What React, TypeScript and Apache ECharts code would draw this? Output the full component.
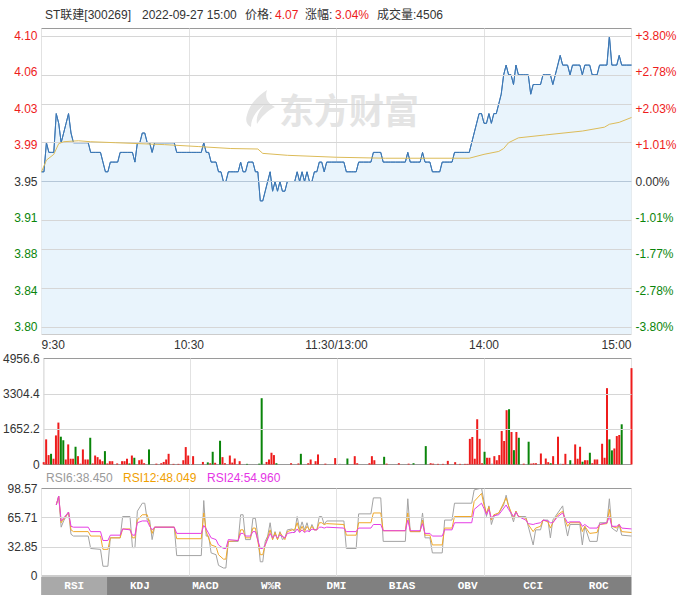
import React, { useEffect, useRef } from "react";
import * as echarts from "echarts";

const FONT = "Arial, 'Liberation Sans', 'Noto Sans CJK SC', sans-serif";
const RED = "#ee1c1c";
const GREEN = "#0a850a";

const timeTicks = [0, 60, 120, 180, 240];
const timeLabels = ["9:30", "10:30", "11:30/13:00", "14:00", "15:00"];

const prevClose = 3.95;
const priceTicks = [3.8, 3.8375, 3.875, 3.9125, 3.95, 3.9875, 4.025, 4.0625, 4.1];
const priceLabels = ["3.80", "3.84", "3.88", "3.91", "3.95", "3.99", "4.03", "4.06", "4.10"];
const pctLabels = ["-3.80%", "-2.78%", "-1.77%", "-1.01%", "0.00%", "+1.01%", "+2.03%", "+2.78%", "+3.80%"];

const price = [
  3.96, 3.96, 3.99, 3.98, 3.98, 3.98, 4.02, 4.01, 3.99, 4.0,
  4.01, 4.02, 4.0, 3.99, 3.99, 3.99, 3.99, 3.99, 3.99, 3.99,
  3.98, 3.98, 3.98, 3.98, 3.98, 3.97, 3.96, 3.96, 3.97, 3.97,
  3.97, 3.97, 3.98, 3.98, 3.98, 3.98, 3.98, 3.98, 3.97, 3.99,
  3.99, 4.0, 4.0, 3.99, 3.99, 3.98, 3.99, 3.99, 3.99, 3.99,
  3.99, 3.99, 3.99, 3.99, 3.99, 3.98, 3.98, 3.98, 3.98, 3.98,
  3.98, 3.98, 3.98, 3.98, 3.98, 3.98, 3.99, 3.98, 3.98, 3.97,
  3.97, 3.97, 3.96, 3.96, 3.95, 3.95, 3.96, 3.96, 3.96, 3.96,
  3.96, 3.97, 3.96, 3.96, 3.97, 3.97, 3.97, 3.96, 3.96, 3.93,
  3.93, 3.94, 3.95, 3.96, 3.94, 3.95, 3.94, 3.95, 3.94, 3.94,
  3.95, 3.95, 3.95, 3.95, 3.96, 3.95, 3.96, 3.95, 3.96, 3.95,
  3.95, 3.96, 3.96, 3.97, 3.97, 3.96, 3.97, 3.97, 3.97, 3.97,
  3.97, 3.97, 3.97, 3.97, 3.96, 3.96, 3.96, 3.96, 3.96, 3.97,
  3.97, 3.97, 3.97, 3.97, 3.97, 3.98, 3.98, 3.98, 3.98, 3.97,
  3.97, 3.97, 3.97, 3.97, 3.97, 3.97, 3.97, 3.97, 3.97, 3.98,
  3.97, 3.97, 3.97, 3.97, 3.97, 3.98, 3.97, 3.97, 3.97, 3.96,
  3.96, 3.96, 3.96, 3.97, 3.97, 3.97, 3.97, 3.97, 3.98, 3.98,
  3.98, 3.98, 3.98, 3.98, 3.98, 3.99, 4.0, 4.01, 4.02, 4.02,
  4.01, 4.01, 4.02, 4.01, 4.02, 4.02, 4.03, 4.04, 4.06, 4.07,
  4.06, 4.06, 4.05, 4.07, 4.06, 4.06, 4.06, 4.06, 4.06, 4.04,
  4.05, 4.05, 4.05, 4.05, 4.06, 4.06, 4.06, 4.06, 4.05, 4.06,
  4.07, 4.08, 4.07, 4.07, 4.07, 4.06, 4.07, 4.07, 4.07, 4.07,
  4.06, 4.07, 4.07, 4.07, 4.06, 4.06, 4.06, 4.07, 4.07, 4.07,
  4.07, 4.1, 4.07, 4.07, 4.07, 4.08, 4.07, 4.07, 4.07, 4.07,
  4.07,
];

const avgPoints = [
  [0, 3.96], [2, 3.972], [5, 3.978], [7, 3.989], [9, 3.991], [15, 3.992], [20, 3.991],
  [30, 3.99], [40, 3.989], [50, 3.988], [64, 3.986], [77, 3.984], [88, 3.9835],
  [90, 3.979], [100, 3.977], [120, 3.975], [140, 3.974], [174, 3.974], [180, 3.978],
  [186, 3.981], [188, 3.984], [190, 3.99], [194, 3.995], [205, 3.998], [220, 4.002],
  [229, 4.006], [231, 4.009], [235, 4.011], [240, 4.016],
];

const volumes = [
  110, 1175, 440, 500, 270, 1360, 1960, 1300, 1130, 235,
  940, 270, 270, 830, 390, 40, 705, 235, 235, 1250,
  50, 420, 345, 235, 155, 625, 50, 155, 155, 0,
  50, 0, 155, 155, 270, 50, 420, 315, 0, 200,
  235, 60, 0, 705, 0, 0, 40, 0, 60, 120,
  235, 500, 0, 30, 0, 30, 0, 200, 815, 420,
  0, 390, 0, 0, 0, 120, 0, 100, 60, 595,
  80, 0, 1110, 345, 60, 0, 420, 90, 280, 0,
  155, 0, 0, 30, 0, 0, 0, 0, 40, 3100,
  30, 120, 235, 550, 440, 60, 0, 0, 0, 0,
  0, 60, 0, 0, 50, 500, 0, 0, 60, 235,
  0, 155, 470, 0, 0, 40, 0, 0, 0, 300,
  0, 30, 0, 0, 280, 0, 0, 390, 60, 0,
  0, 0, 0, 60, 390, 200, 0, 0, 0, 360,
  40, 0, 0, 0, 0, 60, 0, 0, 0, 40,
  0, 60, 0, 0, 0, 0, 860, 0, 60, 40,
  0, 30, 0, 30, 0, 170, 0, 0, 110, 0,
  30, 0, 30, 30, 1200, 1285, 270, 2115, 1200, 60,
  595, 315, 315, 40, 390, 200, 440, 1565, 1100, 2540,
  2585, 1520, 670, 1520, 1250, 0, 40, 0, 1065, 40,
  60, 60, 0, 515, 0, 280, 110, 60, 390, 0,
  1300, 40, 30, 500, 0, 200, 40, 940, 270, 830,
  130, 200, 200, 550, 60, 235, 235, 0, 970, 315,
  3570, 1175, 660, 750, 1330, 1380, 1880, 0, 0, 0,
  4506,
];
const volSide = [
  "rrrgrrrggr", "rrrgrrrrrg", "rrrrrgrrrr", "rrrrrgrgrr", "rrrgrrrrrr",
  "rrrrrrrrrr", "rrrrrrrgrg", "rrgrrrrrrr", "rrrgrrrrgg", "nrrrrgrrrr",
  "rrrrrgrrrr", "rrrrrrrrrr", "rnrrgrrrrr", "rrrrrrrrrg", "rrrrrrrrrr",
  "rgrrrrgrrr", "rrrrrrrrrr", "rrrrrrrrrr", "grrnrrrrrr", "grgrgrrrgr",
  "rrrrrrrgrr", "rnrrrgnrrr", "grrgrrrrrr", "rggrrrgrrr", "r",
].join("");
const volTicks = [0, 1652.2, 3304.4, 4956.6];
const volLabels = ["0", "1652.2", "3304.4", "4956.6"];

const rsiTicks = [0, 32.857, 65.713, 98.57];
const rsiLabels = ["0", "32.85", "65.71", "98.57"];
const rsi6 = [
  [6, 80], [7, 90], [8, 55], [9, 62], [11, 72], [12, 47], [13, 45], [19, 45], [20, 31], [24, 30],
  [25, 11], [27, 11], [28, 43], [32, 43], [33, 67], [36, 67], [37, 32], [38, 32], [39, 73], [41, 82],
  [42, 82], [43, 63], [44, 63], [45, 41], [46, 55], [54, 55], [55, 23], [65, 23], [66, 85], [67, 45],
  [68, 45], [69, 26], [71, 24], [72, 12], [74, 9], [75, 9], [76, 39], [80, 39], [81, 69], [82, 69],
  [83, 41], [85, 41], [86, 65], [87, 65], [88, 45], [89, 16], [90, 16], [91, 39], [92, 45], [93, 60],
  [94, 41], [95, 50], [96, 41], [97, 50], [98, 41], [99, 43], [100, 52], [102, 53], [103, 50], [104, 67],
  [105, 52], [106, 61], [107, 52], [108, 60], [109, 50], [110, 58], [111, 52], [112, 52], [113, 67], [114, 67],
  [115, 58], [116, 62], [123, 62], [124, 31], [128, 31], [129, 70], [134, 70], [135, 88], [138, 88], [139, 39],
  [148, 39], [149, 87], [150, 50], [154, 50], [155, 71], [156, 43], [158, 43], [159, 26], [163, 26], [164, 63],
  [167, 63], [168, 82], [175, 82], [176, 97], [179, 99], [180, 84], [181, 67], [182, 79], [183, 58], [184, 67],
  [186, 71], [188, 80], [189, 91], [190, 79], [192, 61], [193, 73], [194, 67], [197, 67], [198, 56], [200, 35],
  [201, 52], [203, 52], [204, 63], [206, 63], [207, 43], [208, 63], [210, 71], [212, 79], [213, 59], [214, 45],
  [215, 58], [219, 58], [220, 35], [221, 56], [223, 39], [226, 39], [227, 60], [230, 60], [231, 87], [232, 54],
  [234, 50], [235, 58], [236, 46], [240, 45],
];
const rsi12 = [
  [6, 80], [7, 90], [8, 60], [11, 72], [12, 52], [13, 50], [19, 50], [20, 45], [24, 45], [25, 30],
  [27, 30], [28, 43], [32, 43], [33, 53], [36, 53], [37, 43], [38, 43], [39, 63], [41, 69], [43, 69],
  [44, 58], [45, 48], [46, 55], [54, 55], [55, 42], [65, 42], [66, 71], [67, 50], [69, 35], [71, 33],
  [72, 24], [74, 19], [75, 19], [76, 39], [80, 40], [81, 52], [82, 52], [83, 43], [85, 43], [86, 54],
  [87, 54], [89, 24], [90, 24], [91, 35], [93, 52], [94, 41], [95, 49], [96, 41], [97, 49], [99, 41],
  [100, 50], [102, 52], [103, 52], [104, 60], [105, 50], [106, 56], [107, 50], [108, 56], [109, 52], [110, 56],
  [111, 52], [112, 52], [113, 60], [114, 60], [115, 58], [116, 59], [123, 58], [124, 46], [128, 46], [129, 60],
  [134, 60], [135, 71], [138, 71], [139, 51], [148, 51], [149, 71], [150, 50], [154, 50], [155, 63], [156, 46],
  [158, 46], [159, 35], [163, 35], [164, 54], [167, 54], [168, 67], [175, 67], [176, 84], [179, 93], [180, 80],
  [181, 71], [182, 78], [183, 63], [184, 69], [186, 71], [189, 88], [190, 79], [192, 65], [193, 73], [194, 67],
  [197, 65], [198, 58], [200, 50], [201, 54], [203, 56], [204, 63], [206, 61], [207, 54], [208, 60], [210, 69],
  [212, 73], [213, 63], [214, 56], [215, 60], [219, 60], [220, 50], [221, 56], [223, 48], [226, 49], [227, 58],
  [230, 59], [231, 75], [232, 56], [234, 54], [235, 58], [236, 50], [240, 49],
];
const rsi24 = [
  [6, 80], [7, 90], [8, 62], [11, 72], [12, 56], [13, 55], [19, 55], [20, 50], [24, 50], [25, 40],
  [27, 40], [28, 46], [32, 46], [33, 53], [36, 52], [37, 46], [38, 46], [39, 60], [41, 62], [43, 62],
  [44, 56], [45, 52], [46, 55], [54, 55], [55, 48], [65, 48], [66, 57], [67, 53], [69, 43], [71, 41],
  [72, 35], [74, 31], [75, 31], [76, 41], [80, 40], [81, 48], [82, 48], [83, 45], [85, 45], [86, 50],
  [87, 50], [89, 31], [90, 31], [91, 35], [93, 48], [94, 43], [95, 46], [96, 43], [97, 46], [99, 43],
  [100, 48], [102, 49], [103, 49], [104, 53], [105, 49], [106, 52], [107, 49], [108, 51], [109, 50], [110, 53],
  [111, 52], [112, 52], [113, 55], [114, 55], [115, 54], [116, 55], [123, 54], [124, 50], [128, 50], [129, 54],
  [134, 54], [135, 58], [138, 58], [139, 51], [148, 51], [149, 63], [150, 51], [154, 51], [155, 59], [156, 48],
  [158, 48], [159, 45], [163, 45], [164, 52], [167, 52], [168, 60], [175, 60], [176, 75], [179, 82], [180, 76],
  [181, 69], [182, 75], [183, 65], [184, 68], [186, 69], [189, 80], [190, 75], [192, 67], [193, 72], [194, 67],
  [197, 63], [198, 59], [200, 58], [201, 59], [203, 60], [204, 63], [206, 62], [207, 60], [208, 60], [210, 67],
  [212, 71], [213, 65], [214, 60], [215, 61], [219, 61], [220, 56], [221, 58], [223, 54], [226, 54], [227, 58],
  [230, 60], [231, 67], [232, 56], [234, 56], [235, 58], [236, 54], [240, 53],
];

const tabs = ["RSI", "KDJ", "MACD", "W%R", "DMI", "BIAS", "OBV", "CCI", "ROC"];

const lookup = (ticks: number[], labels: string[]) => (v: any) => {
  const n = Number(v);
  const k = ticks.findIndex((t) => Math.abs(t - n) < 1e-4);
  return k >= 0 ? labels[k] : "";
};

const priceColor = (v: any) => {
  const n = Number(v);
  if (n > prevClose + 1e-6) return RED;
  if (n < prevClose - 1e-6) return GREEN;
  return "#333";
};

// Horizontal guide lines as markLines on an empty helper series (same form as the working prev-close line).
const guideSeries = (xi: number, yi: number, ticks: number[], color: string, z = 3) => ({
  type: "line",
  xAxisIndex: xi,
  yAxisIndex: yi,
  data: [],
  z,
  markLine: {
    silent: true,
    symbol: ["none", "none"],
    label: { show: false },
    lineStyle: { color, type: "solid", width: 1 },
    data: ticks.map((t) => ({ yAxis: t })),
  },
});

let shapeRegistered = false;

export default function App() {
  const ref = useRef<HTMLDivElement>(null);
  useEffect(() => {
    if (!ref.current) return;
    if (!shapeRegistered) {
      echarts.graphic.registerShape(
        "emlogo",
        echarts.graphic.extendPath(
          "M24 0 C 14 6 6 16 4 25 C 2 31 4 35 8 37 C 8 29 12 22 21 15 C 15 22 13 28 14 34 C 18 27 24 21 32 17 C 26 14 21 9 24 0 Z",
          {}
        )
      );
      shapeRegistered = true;
    }
    const chart = echarts.init(ref.current, undefined, { renderer: "svg" });

    const PL = 41.5;
    const PW = 590;
    const mainTop = 28.5;
    const mainBottom = 334;
    const pxPerUnit = (327 - 36) / 0.3;
    const yMax = 4.1 + (36 - mainTop) / pxPerUnit;
    const yMin = 3.8 - (mainBottom - 327) / pxPerUnit;

    const xBase = (idx: number, showLabel: boolean) => ({
      type: "value",
      gridIndex: idx,
      min: 0,
      max: 240,
      interval: 60,
      axisLine: { show: false },
      axisTick: { show: false },
      splitLine: { show: true, lineStyle: { color: "#e2e2e2", width: 1, type: "solid" } },
      axisLabel: showLabel
        ? {
            show: true,
            formatter: lookup(timeTicks, timeLabels),
            alignMinLabel: "left",
            alignMaxLabel: "right",
            margin: 5,
            color: "#333",
            fontSize: 12,
            fontFamily: FONT,
          }
        : { show: false },
    });

    const yBase = (grid: number, min: number, max: number, ticks: number[], labels: string[], color: any, pos = "left") => ({
      type: "value",
      gridIndex: grid,
      position: pos,
      min,
      max,
      axisLine: { show: false },
      axisTick: { show: false },
      splitLine: { show: false },
      axisLabel: {
        customValues: ticks,
        formatter: lookup(ticks, labels),
        color,
        fontSize: 12,
        fontFamily: FONT,
        margin: 4,
      },
    });

    const option: any = {
      animation: false,
      backgroundColor: "#fff",
      grid: [
        { left: PL, top: mainTop, width: PW, height: mainBottom - mainTop, show: true, borderColor: "#9a9a9a", borderWidth: 1 },
        { left: PL, top: 358.5, width: PW, height: 106, show: true, borderColor: "#9a9a9a", borderWidth: 1 },
        { left: PL, top: 488.5, width: PW, height: 87.5, show: true, borderColor: "#9a9a9a", borderWidth: 1 },
      ],
      xAxis: [xBase(0, true), xBase(1, false), xBase(2, false)],
      yAxis: [
        yBase(0, yMin, yMax, priceTicks, priceLabels, priceColor),
        yBase(0, yMin, yMax, priceTicks, pctLabels, priceColor, "right"),
        yBase(1, 0, 4956.6, volTicks, volLabels, "#333"),
        yBase(2, 0, 98.57, rsiTicks, rsiLabels, "#333"),
      ],
      series: [
        {
          type: "line",
          xAxisIndex: 0,
          yAxisIndex: 0,
          data: price.map((p, i) => [i, p]),
          showSymbol: false,
          symbol: "none",
          lineStyle: { color: "#3d78b5", width: 1 },
          areaStyle: { color: "#e9f4fc", opacity: 1, origin: "start" },
          z: 2,
        },
        guideSeries(0, 0, priceTicks.filter((t) => t !== prevClose), "#d6d6d6", 3),
        guideSeries(0, 0, [prevClose], "#b5c7d8", 3),
        {
          type: "line",
          xAxisIndex: 0,
          yAxisIndex: 0,
          data: price.map((p, i) => [i, p]),
          showSymbol: false,
          symbol: "none",
          lineStyle: { color: "#3d78b5", width: 1 },
          z: 4,
        },
        {
          type: "line",
          xAxisIndex: 0,
          yAxisIndex: 0,
          data: avgPoints,
          showSymbol: false,
          symbol: "none",
          lineStyle: { color: "#dcbb58", width: 1 },
          z: 5,
        },
        guideSeries(1, 2, [1652.2, 3304.4], "#d6d6d6", 1),
        {
          type: "bar",
          xAxisIndex: 1,
          yAxisIndex: 2,
          barWidth: 2,
          z: 2,
          data: volumes.map((v, i) => ({
            value: [i, v],
            itemStyle: { color: volSide[i] === "g" ? GREEN : volSide[i] === "n" ? "#999" : RED },
          })),
        },
        guideSeries(2, 3, [32.857, 65.713], "#d6d6d6", 1),
        {
          type: "line",
          xAxisIndex: 2,
          yAxisIndex: 3,
          data: rsi6,
          showSymbol: false,
          symbol: "none",
          lineStyle: { color: "#a3a3a3", width: 1 },
        },
        {
          type: "line",
          xAxisIndex: 2,
          yAxisIndex: 3,
          data: rsi12,
          showSymbol: false,
          symbol: "none",
          lineStyle: { color: "#f0a82a", width: 1 },
        },
        {
          type: "line",
          xAxisIndex: 2,
          yAxisIndex: 3,
          data: rsi24,
          showSymbol: false,
          symbol: "none",
          lineStyle: { color: "#e53de5", width: 1 },
        },
      ],
      graphic: [
        { type: "emlogo", x: 243, y: 90, scaleX: 1, scaleY: 1, z: -1, style: { fill: "#e4e4e4" } },
        {
          type: "text", x: 279, y: 108, z: -1,
          style: { text: "东方财富", fill: "#e4e4e4", font: "bold 35px 'Noto Sans CJK SC'", verticalAlign: "middle" },
        },
        { type: "text", x: 45, y: 15, style: { text: "ST联建[300269]", fill: "#333", font: "12px " + FONT, verticalAlign: "middle" } },
        { type: "text", x: 142, y: 15, style: { text: "2022-09-27 15:00", fill: "#333", font: "12px " + FONT, verticalAlign: "middle" } },
        { type: "text", x: 245, y: 15, style: { text: "价格:", fill: "#333", font: "12px " + FONT, verticalAlign: "middle" } },
        { type: "text", x: 275, y: 15, style: { text: "4.07", fill: RED, font: "12px " + FONT, verticalAlign: "middle" } },
        { type: "text", x: 305, y: 15, style: { text: "涨幅:", fill: "#333", font: "12px " + FONT, verticalAlign: "middle" } },
        { type: "text", x: 335, y: 15, style: { text: "3.04%", fill: RED, font: "12px " + FONT, verticalAlign: "middle" } },
        { type: "text", x: 377, y: 15, style: { text: "成交量:4506", fill: "#333", font: "12px " + FONT, verticalAlign: "middle" } },
        { type: "text", x: 46, y: 478, style: { text: "RSI6:38.450", fill: "#9a9a9a", font: "12px " + FONT, verticalAlign: "middle" } },
        { type: "text", x: 123, y: 478, style: { text: "RSI12:48.049", fill: "#f0a000", font: "12px " + FONT, verticalAlign: "middle" } },
        { type: "text", x: 207, y: 478, style: { text: "RSI24:54.960", fill: "#e535e5", font: "12px " + FONT, verticalAlign: "middle" } },
        { type: "rect", shape: { x: PL, y: 577, width: PW, height: 18 }, style: { fill: "#808080" } },
        { type: "rect", shape: { x: PL, y: 577, width: PW / 9, height: 18 }, style: { fill: "#a9a9a9" } },
        ...tabs.map((t, k) => ({
          type: "text",
          x: PL + (PW / 9) * (k + 0.5),
          y: 586,
          style: { text: t, fill: "#fff", font: "bold 11px 'Liberation Mono', monospace", align: "center", verticalAlign: "middle" },
        })),
      ],
    };
    chart.setOption(option);
    return () => chart.dispose();
  }, []);
  return <div ref={ref} style={{ position: "absolute", left: 0, top: 0, width: 689, height: 604 }} />;
}
